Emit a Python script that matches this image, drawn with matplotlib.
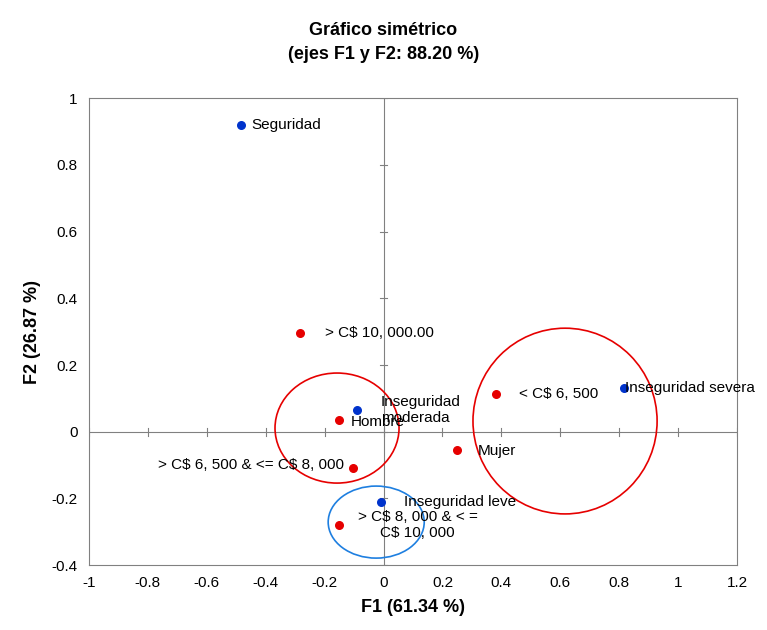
import numpy as np
import matplotlib
matplotlib.use("Agg")
import matplotlib.pyplot as plt
from matplotlib.patches import Ellipse

plt.rcParams['font.family'] = ['Liberation Sans', 'DejaVu Sans']
plt.rcParams['text.parse_math'] = False

# columnas (azul)
col_labels = ['Seguridad', 'Inseguridad\nmoderada', 'Inseguridad severa', 'Inseguridad leve']
col_x = [-0.484, -0.09, 0.817, -0.008]
col_y = [0.919, 0.065, 0.131, -0.211]

# filas (rojo)
row_labels = ['> C$ 10, 000.00', 'Hombre', '< C$ 6, 500', 'Mujer',
              '> C$ 6, 500 & <= C$ 8, 000', '> C$ 8, 000 & < =\nC$ 10, 000']
row_x = [-0.283, -0.151, 0.382, 0.25, -0.104, -0.151]
row_y = [0.296, 0.035, 0.113, -0.055, -0.109, -0.280]

fig = plt.figure(figsize=(7.67, 6.3), dpi=100)
ax = fig.add_axes([0.116, 0.103, 0.845, 0.741])
ax.set_xlim(-1, 1.2)
ax.set_ylim(-0.4, 1)

ax.axhline(0, color='#808080', lw=0.8, zorder=1)
ax.axvline(0, color='#808080', lw=0.8, zorder=1)
xt = np.arange(-1, 1.21, 0.2)
yt = np.arange(-0.4, 1.01, 0.2)
for t in xt:
    ax.plot([t, t], [-0.012, 0.012], color='#808080', lw=0.8, zorder=1)
for t in yt:
    ax.plot([-0.012, 0.012], [t, t], color='#808080', lw=0.8, zorder=1)

ax.scatter(col_x, col_y, s=30, color='#0033cc', zorder=3)
ax.scatter(row_x, row_y, s=30, color='#e60000', zorder=3)

fs = 11
ax.text(-0.45, 0.919, col_labels[0], fontsize=fs, va='center')
ax.text(-0.01, 0.065, col_labels[1], fontsize=fs, va='center')
ax.text(0.82, 0.131, col_labels[2], fontsize=fs, va='center')
ax.text(0.07, -0.211, col_labels[3], fontsize=fs, va='center')
ax.text(-0.20, 0.296, row_labels[0], fontsize=fs, va='center')
ax.text(-0.11, 0.030, row_labels[1], fontsize=fs, va='center')
ax.text(0.46, 0.113, row_labels[2], fontsize=fs, va='center')
ax.text(0.32, -0.058, row_labels[3], fontsize=fs, va='center')
ax.text(-0.135, -0.100, row_labels[4], fontsize=fs, va='center', ha='right')
ax.text(0.115, -0.28, row_labels[5], fontsize=fs, va='center', ha='center')

ax.add_patch(Ellipse((-0.158, 0.011), 0.421, 0.33, fill=False, ec='#e60000', lw=1.2))
ax.add_patch(Ellipse((0.616, 0.032), 0.625, 0.557, fill=False, ec='#e60000', lw=1.2))
ax.add_patch(Ellipse((-0.025, -0.271), 0.326, 0.216, fill=False, ec='#1e7fe0', lw=1.2))

ax.set_xticks(xt)
ax.set_yticks(yt)
ax.set_xticklabels(['-1', '-0.8', '-0.6', '-0.4', '-0.2', '0', '0.2', '0.4', '0.6', '0.8', '1', '1.2'])
ax.set_yticklabels(['-0.4', '-0.2', '0', '0.2', '0.4', '0.6', '0.8', '1'])
ax.tick_params(length=0, labelsize=11, pad=8)
for s in ax.spines.values():
    s.set_color('#808080')
    s.set_linewidth(0.8)

ax.set_xlabel('F1 (61.34 %)', fontsize=13, fontweight='bold', labelpad=6)
ax.set_ylabel('F2 (26.87 %)', fontsize=13, fontweight='bold', labelpad=8)
fig.text(0.5, 0.965, 'Gráfico simétrico\n(ejes F1 y F2: 88.20 %)', ha='center', va='top',
         fontsize=13, fontweight='bold', linespacing=1.5)

fig.savefig('out.png', dpi=100)
